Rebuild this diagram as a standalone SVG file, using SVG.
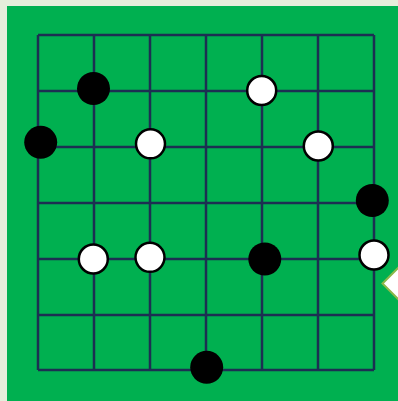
<svg xmlns="http://www.w3.org/2000/svg" width="398" height="401" viewBox="0 0 398 401">
<style>
.grid line{stroke:#1c2f52;stroke-width:2.5}
.b{fill:#000}
.w{fill:#fff;stroke:#000;stroke-width:2.5}
</style>
<rect width="398" height="401" fill="#e6eedb"/>
<rect x="7" y="6" width="391" height="395" fill="#00b050"/>
<g class="grid" id="grid">
<line x1="38" y1="35" x2="374" y2="35"/>
<line x1="38" y1="91" x2="374" y2="91"/>
<line x1="38" y1="147" x2="374" y2="147"/>
<line x1="38" y1="203" x2="374" y2="203"/>
<line x1="38" y1="259" x2="374" y2="259"/>
<line x1="38" y1="315" x2="374" y2="315"/>
<line x1="38" y1="370" x2="374" y2="370"/>
<line x1="38" y1="35" x2="38" y2="370"/>
<line x1="94" y1="35" x2="94" y2="370"/>
<line x1="150" y1="35" x2="150" y2="370"/>
<line x1="206" y1="35" x2="206" y2="370"/>
<line x1="262" y1="35" x2="262" y2="370"/>
<line x1="318" y1="35" x2="318" y2="370"/>
<line x1="374" y1="35" x2="374" y2="370"/>
</g>
<g id="stones">
<circle id="b1" class="b" cx="93.5" cy="88.5" r="16.5"/>
<circle id="w1" class="w" cx="261.7" cy="90.5" r="14.5"/>
<circle id="b2" class="b" cx="40.7" cy="142.3" r="16.5"/>
<circle id="w2" class="w" cx="150.5" cy="143.8" r="14.5"/>
<circle id="w3" class="w" cx="318.3" cy="146" r="14.5"/>
<circle id="b3" class="b" cx="372.3" cy="200.5" r="16.5"/>
<circle id="w4" class="w" cx="93.3" cy="259" r="14.5"/>
<circle id="w5" class="w" cx="150" cy="257.3" r="14.5"/>
<circle id="b4" class="b" cx="264.8" cy="259" r="16.5"/>
<circle id="w6" class="w" cx="374" cy="255" r="14.5"/>
<circle id="b5" class="b" cx="206.7" cy="367.3" r="16.5"/>
</g>
<polygon id="marker" points="382.5,283.5 400,266 417.5,283.5 400,301" fill="#fff" stroke="#8bb84a" stroke-width="2"/>
</svg>
